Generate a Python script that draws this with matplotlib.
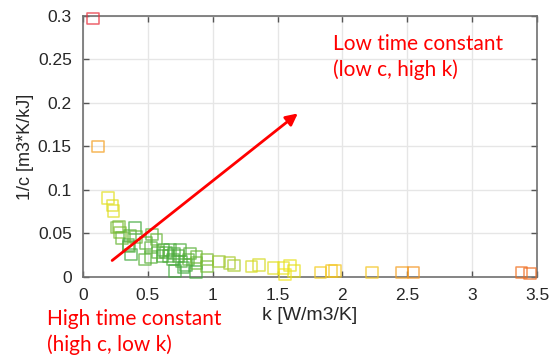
import matplotlib
matplotlib.use("Agg")
import matplotlib.pyplot as plt
from matplotlib.colors import LinearSegmentedColormap

plt.rcParams["font.family"] = ["Liberation Sans", "DejaVu Sans"]

# data: k [W/m3/K], 1/c [m3*K/kJ], colour value (0 green -> 1 red)
k = [0.077, 0.116, 0.195, 0.229, 0.234, 0.26, 0.278, 0.285, 0.40, 0.362,
     0.35, 0.357, 0.368, 0.41, 0.486, 0.53, 0.568, 0.524, 0.478, 0.522,
     0.62, 0.614, 0.67, 0.658, 0.696, 0.709, 0.748, 0.735, 0.774, 0.794,
     0.825, 0.812, 0.876, 0.876, 0.87, 0.954, 0.954, 1.05, 1.13, 1.164,
     1.30, 1.357, 1.47, 1.545, 1.596, 1.557, 1.627, 1.832, 1.917, 1.943,
     2.226, 2.457, 2.547, 3.38, 3.446, 0.64, 0.70, 0.58, 0.76, 0.30]
inv_c = [0.297, 0.150, 0.091, 0.082, 0.076, 0.057, 0.058, 0.051, 0.056, 0.047,
         0.037, 0.035, 0.026, 0.046, 0.039, 0.049, 0.043, 0.034, 0.020, 0.023,
         0.031, 0.024, 0.031, 0.024, 0.020, 0.007, 0.031, 0.024, 0.011, 0.014,
         0.027, 0.020, 0.023, 0.016, 0.006, 0.020, 0.012, 0.018, 0.016, 0.013,
         0.012, 0.014, 0.010, 0.010, 0.013, 0.003, 0.007, 0.005, 0.007, 0.007,
         0.005, 0.005, 0.005, 0.005, 0.004, 0.028, 0.027, 0.028, 0.018, 0.045]
cval = [1.0, 0.62, 0.35, 0.33, 0.33, 0.12, 0.12, 0.13, 0.05, 0.08,
        0.06, 0.06, 0.05, 0.10, 0.08, 0.08, 0.10, 0.08, 0.08, 0.08,
        0.06, 0.06, 0.06, 0.06, 0.06, 0.05, 0.06, 0.06, 0.05, 0.05,
        0.08, 0.08, 0.10, 0.10, 0.05, 0.12, 0.12, 0.16, 0.18, 0.18,
        0.30, 0.30, 0.34, 0.36, 0.36, 0.40, 0.36, 0.48, 0.50, 0.50,
        0.50, 0.62, 0.66, 0.78, 0.80, 0.06, 0.06, 0.08, 0.06, 0.10]

xticks = [0, 0.5, 1, 1.5, 2, 2.5, 3, 3.5]
xticklabels = ["0", "0.5", "1", "1.5", "2", "2.5", "3", "3.5"]
yticks = [0, 0.05, 0.1, 0.15, 0.2, 0.25, 0.3]
yticklabels = ["0", "0.05", "0.1", "0.15", "0.2", "0.25", "0.3"]

cmap = LinearSegmentedColormap.from_list(
    "tc", ["#1f9e45", "#b8cf2a", "#f2e51a", "#f5a623", "#ef6a1f", "#e8303c"])

fig = plt.figure(figsize=(5.51, 3.61), dpi=100)
ax = fig.add_axes([0.1506, 0.2327, 0.824, 0.723])

colors = [cmap(v) for v in cval]
ax.scatter(k, inv_c, marker="s", s=70, facecolors="none", edgecolors=colors,
           linewidths=1.1, alpha=0.75, zorder=3, clip_on=False)

ax.set_xlim(0, 3.5)
ax.set_ylim(0, 0.3)
ax.set_xticks(xticks)
ax.set_xticklabels(xticklabels)
ax.set_yticks(yticks)
ax.set_yticklabels(yticklabels)
ax.tick_params(direction="in", top=True, right=True, length=4, width=1,
               colors="#555555", labelcolor="#262626", labelsize=12.5, pad=8)
ax.grid(True, color="#e6e6e6", linewidth=1, zorder=0)
ax.set_axisbelow(True)
for s in ax.spines.values():
    s.set_color("#707070")
    s.set_linewidth(1.2)

ax.set_xlabel("k [W/m3/K]", fontsize=14, color="#262626", labelpad=3)
ax.set_ylabel("1/c [m3*K/kJ]", fontsize=13, color="#262626")
ax.yaxis.set_label_coords(-0.108, 0.5)

ax.annotate("", xy=(1.673, 0.190), xytext=(0.208, 0.017),
            arrowprops=dict(arrowstyle="-|>,head_length=0.7,head_width=0.35",
                            color="red", lw=2), zorder=4)

fig.text(333 / 551, 1 - 57 / 361, "Low time constant\n(low c, high k)",
         color="red", fontsize=15, family="Lato", va="center", ha="left",
         linespacing=1.35)
fig.text(47 / 551, 1 - 332 / 361, "High time constant\n(high c, low k)",
         color="red", fontsize=15, family="Lato", va="center", ha="left",
         linespacing=1.35)

fig.savefig("out.png", dpi=100)
